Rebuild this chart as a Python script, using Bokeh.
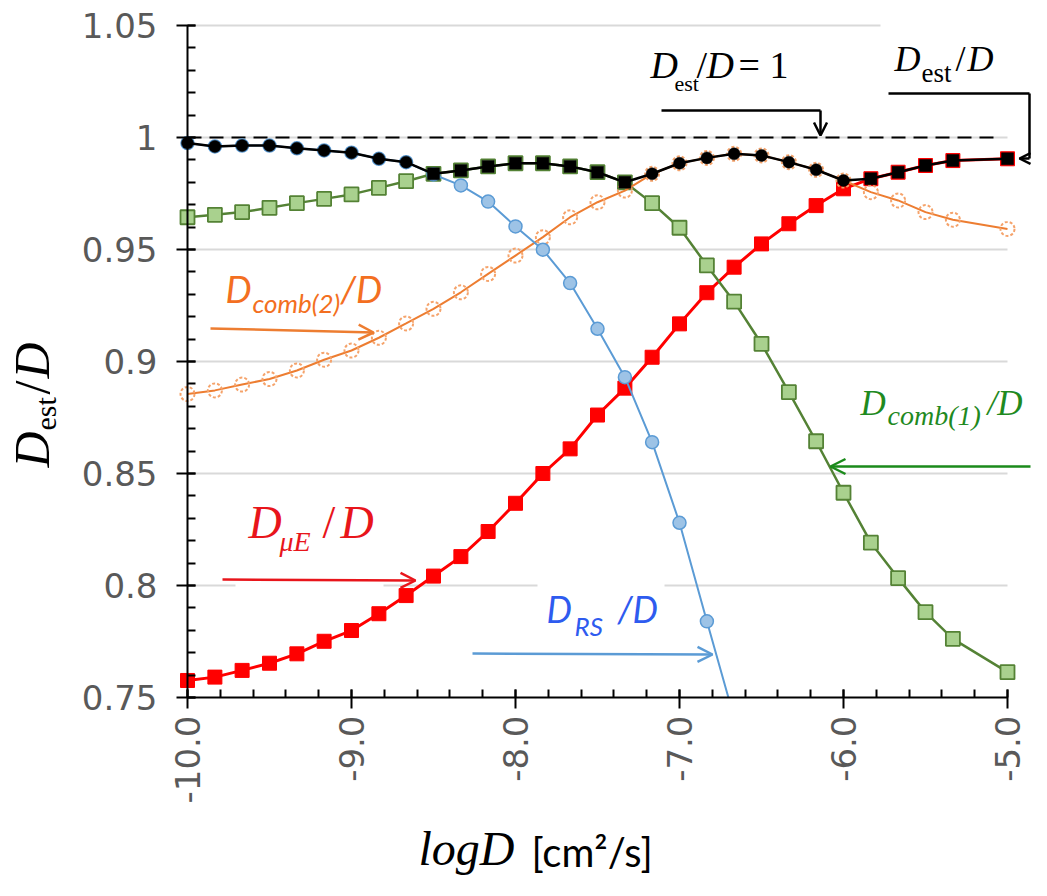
import math
import numpy as np
from bokeh.plotting import figure
from bokeh.models import (Range1d, FixedTicker, CustomJSTickFormatter, Label, Arrow,
                          OpenHead, ColumnDataSource)
from bokeh.embed import file_html
from bokeh.resources import INLINE

# ---------------- data ----------------
log_d = [-10.0, -9.833, -9.667, -9.5, -9.333, -9.167, -9.0, -8.833, -8.667, -8.5,
         -8.333, -8.167, -8.0, -7.833, -7.667, -7.5, -7.333, -7.167, -7.0, -6.833,
         -6.667, -6.5, -6.333, -6.167, -6.0, -5.833, -5.667, -5.5, -5.333, -5.0]

est_ratio = [0.9975, 0.996, 0.9964, 0.9964, 0.9952, 0.9942, 0.9932, 0.9905, 0.989, 0.9838,
             0.9853, 0.9871, 0.9885, 0.9885, 0.9871, 0.9845, 0.980, 0.9838, 0.9885, 0.9909,
             0.9927, 0.992, 0.989, 0.9856, 0.9808, 0.9816, 0.9845, 0.9875, 0.9897, 0.9905]

rs_ratio = [0.9975, 0.996, 0.9964, 0.9964, 0.9952, 0.9942, 0.9932, 0.9905, 0.989, 0.9835,
            0.9786, 0.9714, 0.9603, 0.9499, 0.935, 0.9146, 0.893, 0.864, 0.828, 0.784, 0.741]

comb1_ratio = [0.9644, 0.9655, 0.9667, 0.9686, 0.9707, 0.9726, 0.9746, 0.9775, 0.9805, 0.9838,
               0.9853, 0.9871, 0.9885, 0.9885, 0.9871, 0.9845, 0.980, 0.9707, 0.9597, 0.9429,
               0.9267, 0.9079, 0.8863, 0.8644, 0.8414, 0.8191, 0.8033, 0.7881, 0.7762, 0.7613]

comb2_ratio = [0.8855, 0.8871, 0.8897, 0.8922, 0.896, 0.9008, 0.9049, 0.9106, 0.917, 0.9235,
               0.9309, 0.9391, 0.9473, 0.9555, 0.9644, 0.9711, 0.9763, 0.9838, 0.9885, 0.9909,
               0.9927, 0.992, 0.989, 0.9856, 0.9808, 0.9756, 0.9719, 0.9667, 0.9633, 0.9592]

mue_ratio = [0.7576, 0.7591, 0.7621, 0.7653, 0.7695, 0.7751, 0.7799, 0.7874, 0.7955, 0.8042,
             0.8129, 0.8241, 0.8367, 0.850, 0.861, 0.8761, 0.8881, 0.9019, 0.9168, 0.9307,
             0.9421, 0.9525, 0.9615, 0.9696, 0.9771, 0.9816, 0.9845, 0.9875, 0.9897, 0.9905]

x_major = [-10, -9, -8, -7, -6, -5]
y_major = [0.75, 0.8, 0.85, 0.9, 0.95, 1.0, 1.05]
reference_level = 1.0

W, H = 1031, 880

# ---------------- layout helpers (reference pixel -> data) ----------------
def X(px):
    return -10 + (px - 187) / 164.0

def Y(py):
    return 1.0 - (py - 137) / 2240.0

p = figure(width=W, height=H, output_backend="svg", toolbar_location=None,
           x_range=Range1d(X(0), X(W)), y_range=Range1d(Y(H), Y(0)),
           min_border=0)
p.outline_line_color = None
p.background_fill_color = "white"
p.border_fill_color = "white"
p.xgrid.visible = False
p.ygrid.visible = False

# axes, placed at fixed data locations inside the full-canvas frame
x_minor = np.round(np.arange(-10, -4.99, 0.2), 2).tolist()
y_minor = np.round(np.arange(0.75, 1.0501, 0.01), 3).tolist()

xa = p.xaxis[0]
xa.fixed_location = y_major[0]
xa.ticker = FixedTicker(ticks=x_major, minor_ticks=x_minor)
xa.bounds = (x_major[0], x_major[-1])
xa.formatter = CustomJSTickFormatter(code="return tick.toFixed(1);")
xa.major_label_orientation = math.pi / 2
ya = p.yaxis[0]
ya.fixed_location = x_major[0]
ya.ticker = FixedTicker(ticks=y_major, minor_ticks=y_minor)
ya.bounds = (y_major[0], y_major[-1])
ya.formatter = CustomJSTickFormatter(code="return (Math.round(tick*100)/100).toString();")
for ax in (xa, ya):
    ax.axis_line_color = "black"
    ax.axis_line_width = 2
    ax.major_tick_line_color = "black"
    ax.major_tick_line_width = 2
    ax.minor_tick_line_color = "black"
    ax.minor_tick_line_width = 2
    ax.major_tick_in = 8
    ax.major_tick_out = 11
    ax.minor_tick_in = 8
    ax.minor_tick_out = 0
    ax.major_label_text_font = "DejaVu Sans"
    ax.major_label_text_font_size = "34px"
    ax.major_label_text_color = "#595959"
xa.major_label_standoff = 7
ya.major_label_standoff = 19

# gridlines (drawn by hand so they stop at -5)
grid_y = y_major[1:]
p.segment(x0=[x_major[0]] * len(grid_y), x1=[x_major[-1]] * len(grid_y), y0=grid_y, y1=grid_y,
          line_color="#D9D9D9", line_width=2)
# white text-box backgrounds that interrupt gridlines
p.quad(left=[X(235), X(537), X(880)], right=[X(383), X(664), X(1012)],
       bottom=[Y(591), Y(591), Y(33)], top=[Y(576), Y(576), Y(15)],
       fill_color="white", line_color=None)

# reference dashed line at 1
p.line([x_major[0], X(997)], [reference_level, reference_level], line_color="black",
       line_width=2, line_dash="14 8")

# series
n_rs = len(rs_ratio)
p.line(log_d, mue_ratio, line_color="#FF0000", line_width=3)
p.scatter(log_d, mue_ratio, marker="square", size=14, fill_color="#FF0000",
          line_color="#FF0000", line_width=1)

p.line(log_d, comb1_ratio, line_color="#548235", line_width=2.5)
p.scatter(log_d, comb1_ratio, marker="square", size=14, fill_color="#A9D18E",
          line_color="#548235", line_width=1.8)

p.line(log_d, comb2_ratio, line_color="#ED7D31", line_width=2)
p.scatter(log_d, comb2_ratio, marker="circle", size=14, fill_alpha=0,
          line_color="#F5A36B", line_width=2, line_dash="3 2")

p.line(log_d[:n_rs], rs_ratio, line_color="#5B9BD5", line_width=2)
p.scatter(log_d[:n_rs], rs_ratio, marker="circle", size=13, fill_color="#9DC3E6",
          line_color="#5B9BD5", line_width=1.5)

est_markers = ["square" if (np.isclose(e, c1) or np.isclose(e, mu)) else "circle"
               for e, c1, mu in zip(est_ratio, comb1_ratio, mue_ratio)]
src = ColumnDataSource(dict(x=log_d, y=est_ratio, m=est_markers))
p.line("x", "y", source=src, line_color="black", line_width=2.5)
p.scatter("x", "y", source=src, marker="m", size=12, fill_color="black",
          line_color="black", line_width=0.5)

# hide whatever runs below the x axis (plot-area clipping)
p.quad(left=[X(0)], right=[X(W)], bottom=[Y(H)], top=[y_major[0]],
       fill_color="white", line_color=None)

# ---------------- annotations ----------------
SERIF = "Liberation Serif"
SANS = "Lato"
BASE_SHIFT = 0.42  # measured: rendered baseline sits this many em below the anchor

def lab(px, py, text, size, color="black", font=SERIF, style="normal", angle=0.0):
    # (px, py) is the wanted baseline-start point in picture pixels
    if angle:
        px = px - BASE_SHIFT * size
    else:
        py = py - BASE_SHIFT * size
    p.add_layout(Label(x=X(px), y=Y(py), text=text, text_font=font,
                       text_font_size=f"{size}px", text_font_style=style,
                       text_color=color, text_align="left",
                       text_baseline="alphabetic", angle=angle))

def arrow(x0, y0, x1, y1, color, head=True, width=2.5, hsize=13):
    end = OpenHead(size=hsize, line_color=color, line_width=width) if head else None
    p.add_layout(Arrow(end=end, x_start=X(x0), y_start=Y(y0), x_end=X(x1), y_end=Y(y1),
                       line_color=color, line_width=width))

# D_est/D = 1
lab(650, 80, "D", 38, style="italic")
lab(674, 92, "est", 22)
lab(696, 80, "/", 38)
lab(706, 80, "D", 38, style="italic")
lab(738, 80, "= 1", 38)
arrow(661, 110, 820, 110, "black", head=False)
arrow(820, 110, 820, 135, "black")

# D_est/D (top right)
lab(894, 74, "D", 36, style="italic")
lab(921, 84, "est", 27)
lab(955, 74, "/", 36)
lab(967, 74, "D", 36, style="italic")
arrow(888, 93, 1029, 93, "black", head=False)
arrow(1029, 93, 1029, 158, "black", head=False)
arrow(1029, 158, 1019, 158, "black", hsize=11)

# D_comb(2)/D (orange)
c_or = "#F36F21"
lab(225, 304, "D", 37, c_or, SANS, "italic")
lab(252, 313, "comb(2)", 26, c_or, SANS, "italic")
lab(340, 304, "/D", 37, c_or, SANS, "italic")
arrow(210, 328, 373, 332, "#ED7D31", hsize=15)

# D_comb(1)/D (green)
c_gr = "#1F8A1F"
lab(860, 418, "D", 35, c_gr, SERIF, "italic")
lab(887, 427, "comb(1)", 28, c_gr, SERIF, "italic")
lab(987, 418, "/D", 35, c_gr, SERIF, "italic")
arrow(1030, 466, 830, 466, "#1A8A1A", hsize=15)

# D_muE/D (red)
c_rd = "#E8151B"
lab(248, 541, "D", 46, c_rd, SERIF, "italic")
lab(279, 553, "\u03bcE", 28, c_rd, SERIF, "italic")
lab(322, 541, "/", 46, c_rd, SERIF, "normal")
lab(340, 541, "D", 46, c_rd, SERIF, "italic")
arrow(222, 579, 415, 580, "#E8151B", hsize=15)

# D_RS/D (blue)
c_bl = "#2E5BEF"
lab(546, 624, "D", 36, c_bl, SANS, "italic")
lab(574, 636, "RS", 26, c_bl, SANS, "italic")
lab(617, 624, "/D", 36, c_bl, SANS, "italic")
arrow(472, 653, 712, 654, "#5B9BD5", hsize=15)

# axis titles
rot = math.pi / 2
lab(52, 467, "D", 50, style="italic", angle=rot)
lab(58, 430, "est", 30, angle=rot)
lab(52, 394, "/", 50, angle=rot)
lab(52, 378, "D", 50, style="italic", angle=rot)

lab(418, 868, "logD", 48, style="italic")
lab(531, 868, "[cm\u00b2/s]", 40, font=SANS)

open("out.html", "w").write(file_html(p, INLINE))
